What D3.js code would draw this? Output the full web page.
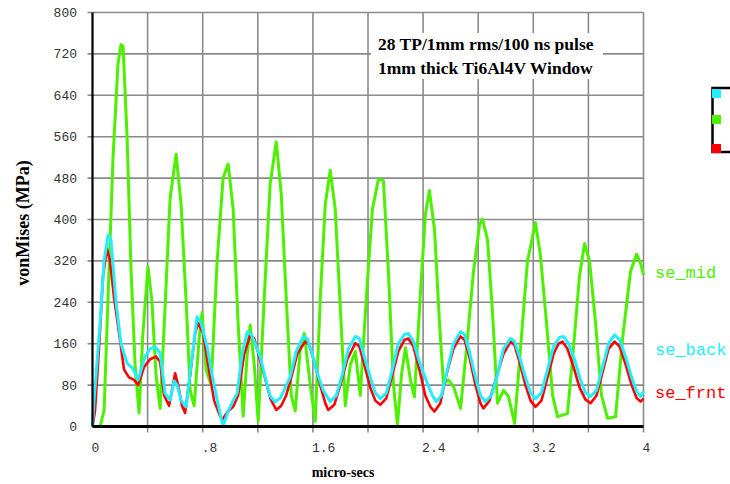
<!DOCTYPE html>
<html><head><meta charset="utf-8">
<script src="https://cdn.jsdelivr.net/npm/d3@7"></script>
<style>html,body{margin:0;padding:0;background:#fff;}svg{display:block;}</style>
</head><body>
<svg id="c" width="730" height="484"></svg>
<script>
// ---- data ----
const title = ["28 TP/1mm rms/100 ns pulse", "1mm thick Ti6Al4V Window"];
const xLabel = "micro-secs";
const yLabel = "vonMises (MPa)";
const xTickLabels = ["0", ".8", "1.6", "2.4", "3.2", "4"];
const xTickValues = [0, 0.8, 1.6, 2.4, 3.2, 4];
const yTickValues = [0, 80, 160, 240, 320, 400, 480, 560, 640, 720, 800];
const seriesNames = ["se_mid", "se_back", "se_frnt"];
const seriesColors = ["#4cf000", "#22eeff", "#ff0000"];

const midT = [0,0.055,0.084,0.113,0.149,0.185,0.207,0.222,0.251,0.280,0.309,0.338,0.366,0.403,0.432,0.461,0.491,0.527,0.563,0.607,0.643,0.680,0.709,0.738,0.774,0.796,0.825,0.861,0.905,0.948,0.985,1.021,1.057,1.094,1.123,1.145,1.174,1.203,1.247,1.290,1.334,1.370,1.406,1.443,1.472,1.508,1.537,1.581,1.617,1.654,1.690,1.726,1.762,1.799,1.835,1.872,1.908,1.944,1.988,2.032,2.076,2.112,2.148,2.185,2.214,2.243,2.272,2.308,2.337,2.381,2.417,2.446,2.483,2.519,2.548,2.584,2.621,2.672,2.715,2.766,2.810,2.831,2.868,2.904,2.940,2.984,3.020,3.064,3.107,3.158,3.216,3.252,3.296,3.340,3.376,3.448,3.491,3.535,3.572,3.608,3.652,3.695,3.739,3.797,3.848,3.906,3.950,3.979,4.0];
const midV = [0,0,30,250,520,700,738,735,560,300,120,26,180,309,240,100,35,230,440,526,430,240,70,40,170,220,110,80,320,480,507,420,200,20,140,196,120,10,250,470,550,450,250,60,30,150,180,80,10,250,430,495,420,230,40,120,145,60,250,420,478,475,300,80,3,100,152,90,57,260,410,456,380,200,83,90,77,35,150,300,390,401,360,220,45,70,58,6,150,320,394,330,200,60,19,25,150,290,353,320,200,60,16,19,170,300,333,315,293];

const backT = [0,0.011,0.055,0.084,0.113,0.134,0.171,0.207,0.251,0.294,0.331,0.382,0.418,0.454,0.491,0.527,0.563,0.592,0.614,0.643,0.680,0.716,0.759,0.789,0.832,0.868,0.905,0.948,0.985,1.021,1.050,1.086,1.123,1.152,1.181,1.217,1.254,1.290,1.326,1.363,1.399,1.435,1.479,1.530,1.559,1.595,1.632,1.675,1.726,1.770,1.813,1.857,1.908,1.937,1.973,2.017,2.053,2.089,2.133,2.177,2.220,2.264,2.293,2.329,2.373,2.431,2.467,2.496,2.533,2.576,2.620,2.671,2.700,2.736,2.780,2.816,2.852,2.896,2.940,2.983,3.034,3.063,3.100,3.143,3.180,3.216,3.259,3.303,3.347,3.390,3.419,3.456,3.499,3.543,3.579,3.616,3.659,3.703,3.746,3.790,3.826,3.870,3.914,3.950,3.979,4.0];
const backV = [0,50,200,320,370,360,240,160,122,112,90,135,150,154,142,64,51,88,80,50,38,120,212,200,154,100,51,0,30,50,64,140,183,178,160,135,95,58,48,55,75,96,145,174,170,140,103,70,48,60,100,150,174,170,135,95,65,54,65,110,160,178,180,165,125,83,60,48,60,110,160,183,178,145,95,60,48,60,100,150,170,165,135,95,65,54,65,110,155,172,174,160,130,90,65,58,70,115,160,177,168,135,95,68,58,68];

const frntT = [0,0.018,0.047,0.076,0.105,0.127,0.156,0.193,0.229,0.265,0.302,0.331,0.374,0.418,0.461,0.491,0.520,0.556,0.600,0.621,0.650,0.672,0.709,0.745,0.767,0.803,0.839,0.883,0.919,0.941,0.985,1.021,1.057,1.101,1.145,1.174,1.210,1.246,1.290,1.334,1.370,1.406,1.443,1.486,1.544,1.573,1.610,1.653,1.690,1.711,1.755,1.799,1.850,1.908,1.937,1.973,2.017,2.053,2.089,2.133,2.177,2.220,2.264,2.293,2.329,2.373,2.416,2.453,2.482,2.525,2.569,2.620,2.671,2.700,2.736,2.780,2.816,2.838,2.882,2.932,2.983,3.034,3.063,3.100,3.143,3.180,3.216,3.259,3.303,3.347,3.383,3.412,3.448,3.492,3.536,3.579,3.616,3.659,3.703,3.746,3.790,3.826,3.870,3.914,3.950,3.979,4.0];
const frntV = [0,30,150,290,344,320,250,180,110,95,90,80,115,130,135,125,60,40,103,80,40,26,100,180,200,180,120,50,25,13,30,38,60,140,177,170,135,100,55,32,40,60,95,140,164,158,125,80,45,32,42,80,130,161,155,120,75,50,42,55,100,145,167,170,155,110,60,38,29,45,100,150,174,168,135,80,45,35,50,95,140,164,158,125,80,50,38,50,95,140,160,164,150,115,75,52,45,60,105,150,164,155,120,80,55,48,54];

// ---- layout ----
const svg = d3.select("#c");
const x = d3.scaleLinear().domain([0, 4]).range([92.5, 643.5]);
const y = d3.scaleLinear().domain([0, 800]).range([426.5, 12.5]);

const gridColor = "#8a8a8a";
// vertical grid every 0.4
const xGrid = d3.range(0, 4.0001, 0.4);
svg.append("g").selectAll("line").data(xGrid.slice(1)).join("line")
  .attr("x1", d => x(d)).attr("x2", d => x(d))
  .attr("y1", y(800)).attr("y2", y(0) + 6)
  .attr("stroke", gridColor).attr("stroke-width", 1.6);
// horizontal grid
svg.append("g").selectAll("line").data(yTickValues.slice(1)).join("line")
  .attr("x1", x(0) - 5).attr("x2", x(4))
  .attr("y1", d => y(d)).attr("y2", d => y(d))
  .attr("stroke", gridColor).attr("stroke-width", 1.6);

// title box
const tb = svg.append("g");
tb.append("rect").attr("x", 371).attr("y", 33).attr("width", 232).attr("height", 46).attr("fill", "#fff");
tb.selectAll("text").data(title).join("text")
  .attr("x", 378).attr("y", (d, i) => 50 + i * 24)
  .attr("font-family", "'Liberation Serif', serif").attr("font-weight", "bold")
  .attr("font-size", 17.5).attr("fill", "#000").text(d => d);

// series
const series = [
  {name: seriesNames[0], color: seriesColors[0], t: midT, v: midV, w: 3},
  {name: seriesNames[2], color: seriesColors[2], t: frntT, v: frntV, w: 2.6},
  {name: seriesNames[1], color: seriesColors[1], t: backT, v: backV, w: 3},
];
const line = d3.line().x(d => x(d[0])).y(d => y(d[1]));
svg.append("g").selectAll("path").data(series).join("path")
  .attr("d", s => line(s.t.map((t, i) => [t, s.v[i]])))
  .attr("fill", "none").attr("stroke", s => s.color).attr("stroke-width", s => s.w)
  .attr("stroke-linejoin", "round");

// axes
svg.append("line").attr("x1", x(0)).attr("x2", x(0)).attr("y1", y(800)).attr("y2", y(0))
  .attr("stroke", "#000").attr("stroke-width", 2.2);
svg.append("line").attr("x1", x(0)).attr("x2", x(4)).attr("y1", y(0)).attr("y2", y(0))
  .attr("stroke", "#000").attr("stroke-width", 3.2);

// tick labels
svg.append("g").selectAll("text").data(yTickValues).join("text")
  .attr("x", 77).attr("y", d => y(d)).attr("dy", "0.35em").attr("text-anchor", "end")
  .attr("font-family", "'Liberation Mono', monospace").attr("font-size", 13).attr("fill", "#333")
  .text(d => d);
svg.append("g").selectAll("text").data(xTickValues).join("text")
  .attr("x", d => x(d) - 1).attr("y", 452)
  .attr("font-family", "'Liberation Mono', monospace").attr("font-size", 13).attr("fill", "#333")
  .text((d, i) => xTickLabels[i]);

// axis titles
svg.append("text").attr("x", 343).attr("y", 477).attr("text-anchor", "middle")
  .attr("font-family", "'Liberation Serif', serif").attr("font-weight", "bold").attr("font-size", 14)
  .text(xLabel);
svg.append("text").attr("transform", "translate(29,223) rotate(-90)").attr("text-anchor", "middle")
  .attr("font-family", "'Liberation Serif', serif").attr("font-weight", "bold").attr("font-size", 18)
  .text(yLabel);

// series end labels
const endLabels = [
  {name: seriesNames[0], color: seriesColors[0], yc: 272},
  {name: seriesNames[1], color: seriesColors[1], yc: 349},
  {name: seriesNames[2], color: seriesColors[2], yc: 392},
];
svg.append("g").selectAll("text").data(endLabels).join("text")
  .attr("x", 655).attr("y", d => d.yc).attr("dy", "0.35em")
  .attr("font-family", "'Liberation Mono', monospace").attr("font-size", 17)
  .attr("fill", d => d.color).text(d => d.name);

// partial legend bracket at right edge
const lg = svg.append("g");
lg.append("path").attr("d", "M730,88 H712.5 V152 H730").attr("fill", "none")
  .attr("stroke", "#000").attr("stroke-width", 2.5);
const legendColors = [seriesColors[1], seriesColors[0], seriesColors[2]];
const legendY = [89, 115, 144];
lg.selectAll("rect").data(legendColors).join("rect")
  .attr("x", 712).attr("y", (d, i) => legendY[i]).attr("width", 9).attr("height", 9)
  .attr("fill", d => d);
</script>
</body></html>
